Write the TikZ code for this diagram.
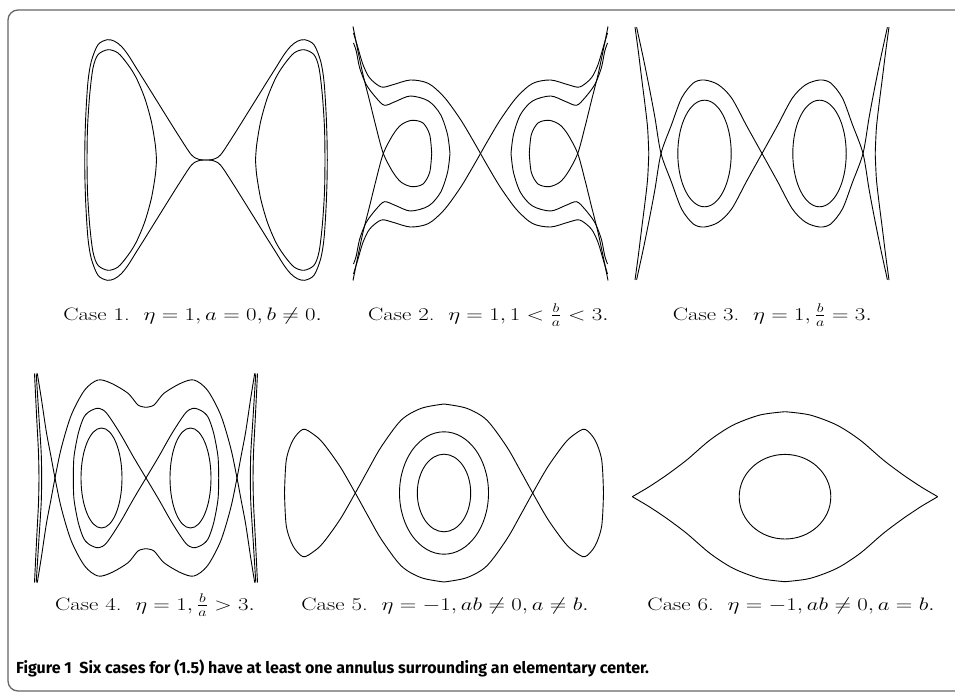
\RequirePackage{fix-cm}
\documentclass[tikz,border=0pt]{standalone}
\usepackage{fontspec}
\usepackage{graphicx}
\newfontfamily\capfont{Fira Sans}
\newcommand{\caselab}[1]{\scalebox{1.27}[1]{#1}}
\begin{document}
\begin{tikzpicture}[x=1pt,y=-1pt,
  curve/.style={line width=0.9pt,black},
  lab/.style={anchor=base,inner sep=0pt,font=\fontsize{18}{21}\selectfont},
  frame/.style={rounded corners=10pt,line width=1.3pt,black!60}]
\useasboundingbox (0,0) rectangle (955,692);
\draw[frame] (8,10) rectangle (980,691);

% ---------- Panel 1
\begin{scope}[shift={(206,160)}]
\foreach \sx in {1,-1}{\foreach \sy in {1,-1}{
\begin{scope}[xscale=\sx,yscale=\sy]
\draw[curve] plot[smooth] coordinates {(0,0) (-7,-0.6) (-14.7,-5.3) (-28,-25.3) (-44.7,-52) (-61.3,-78.7) (-69.7,-92) (-78,-105.3) (-84.7,-113.7) (-91.3,-118.7) (-98.7,-120.3) (-108,-115.3) (-114.7,-98.7) (-118,-78.7) (-120,-48.7) (-121,-22) (-121.3,0)};
\draw[curve] plot[smooth] coordinates {(-49.5,0) (-50.7,-15.3) (-54.7,-38.7) (-61.3,-62) (-69.7,-82) (-78,-95.3) (-88,-107) (-98,-110.3) (-108,-105.3) (-113,-92) (-116.3,-65.3) (-118.5,-32) (-119,0)};
\end{scope}}}
\end{scope}

% ---------- Panel 2
\begin{scope}[shift={(480.5,153.5)}]
\foreach \sx in {1,-1}{\foreach \sy in {1,-1}{
\begin{scope}[xscale=\sx,yscale=\sy]
\draw[curve] plot[smooth] coordinates {(-127,-120.5) (-122.5,-105.5) (-117.5,-88.8) (-110.8,-75.5) (-99.2,-66.5) (-87.5,-68.8) (-70,-73.5) (-52,-70) (-36,-56) (-20,-34) (-8,-14) (0,0)};
\draw[curve] plot[smooth] coordinates {(-127,-110.5) (-124.2,-102.2) (-120.8,-85.5) (-114.2,-68.8) (-104.2,-55.5) (-96,-48.2) (-85,-52) (-70,-57.5) (-52,-52.5) (-40,-39) (-33,-19) (-30.5,0)};
\draw[curve] plot[smooth] coordinates {(-127.5,-127) (-122.5,-102.2) (-117.5,-78.8) (-110.8,-52.2) (-104.2,-25.5) (-97.2,0) (-87.5,18.8) (-79.2,28.8) (-68.5,33.2) (-57.5,30.5) (-50.8,18.8) (-48.8,0)};
\end{scope}}}
\end{scope}

% ---------- Panel 3
\begin{scope}[shift={(762,153.5)}]
\foreach \sx in {1,-1}{\foreach \sy in {1,-1}{
\begin{scope}[xscale=\sx,yscale=\sy]
\draw[curve] plot[smooth] coordinates {(-127,-126.5) (-123.7,-102.2) (-120.4,-75.5) (-117,-48.8) (-114.4,-25.5) (-113.2,0)};
\draw[curve] plot[smooth] coordinates {(-125.4,-126.2) (-118.7,-95.5) (-112,-62.2) (-107,-35.5) (-101,0) (-90.4,29) (-80.4,55.5) (-68.7,70.5) (-57.7,73.5) (-43.7,68.8) (-30.4,55.5) (-15,27) (0,0)};
\end{scope}}}
\draw[curve] (-57.5,0) ellipse [x radius=26.7,y radius=53.3];
\draw[curve] (57.5,0) ellipse [x radius=26.7,y radius=53.3];
\end{scope}

% ---------- Panel 4
\begin{scope}[shift={(146,478)}]
\foreach \sx in {1,-1}{\foreach \sy in {1,-1}{
\begin{scope}[xscale=\sx,yscale=\sy]
\draw[curve] plot[smooth] coordinates {(-111.5,-104.5) (-109.3,-60) (-107.5,-25) (-107,0)};
\draw[curve] plot[smooth] coordinates {(-109.8,-104.5) (-107,-60) (-104.8,-25) (-104.3,0)};
\draw[curve] plot[smooth] coordinates {(-108.7,104.5) (-104.7,79.7) (-99.7,46.3) (-95.3,23) (-91,0) (-84.7,-30) (-74.7,-63) (-61.3,-88) (-48,-98) (-34.7,-94.7) (-18,-84.7) (-8,-73) (0,-70.7)};
\draw[curve] plot[smooth] coordinates {(0,0) (-12.7,-21.3) (-26,-44.7) (-39.3,-64.7) (-47,-69.7) (-55,-67.5) (-62,-61) (-67.7,-44.7) (-72,-21.3) (-72.7,0)};
\end{scope}}}
\draw[curve] (-44.5,0) ellipse [x radius=20.5,y radius=50];
\draw[curve] (44.5,0) ellipse [x radius=20.5,y radius=50];
\end{scope}

% ---------- Panel 5
\begin{scope}[shift={(444,493)}]
\foreach \sx in {1,-1}{\foreach \sy in {1,-1}{
\begin{scope}[xscale=\sx,yscale=\sy]
\draw[curve] plot[smooth] coordinates {(0,-89) (22.7,-84.7) (42.7,-73) (62.7,-46.3) (76,-23) (88.7,0) (104,26.5) (121,50) (131,59) (141,63.7) (151,53) (157.7,33) (159.5,0)};
\end{scope}}}
\draw[curve] (0,0) ellipse [x radius=26.7,y radius=38.8];
\draw[curve] (0,0) ellipse [x radius=44.5,y radius=61.2];
\end{scope}

% ---------- Panel 6
\begin{scope}[shift={(785,496.7)}]
\foreach \sx in {1,-1}{\foreach \sy in {1,-1}{
\begin{scope}[xscale=\sx,yscale=\sy]
\draw[curve] plot[smooth] coordinates {(-152.7,0) (-145,-4.5) (-135,-10.5) (-118.3,-21.7) (-98.3,-36.7) (-75,-56.7) (-51.7,-71.7) (-25,-81.7) (0,-85)};
\end{scope}}}
\draw[curve] (0,0) ellipse [x radius=45.8,y radius=42.3];
\end{scope}

% ---------- labels
\node[lab] (l1) at (192.7,320) {\caselab{Case 1.\ \ $\eta=1,a=0,b\neq0.$}};
\node[lab] (l2) at (488.3,320) {\caselab{Case 2.\ \ $\eta=1,1<\frac{b}{a}<3.$}};
\node[lab] (l3) at (772.3,320) {\caselab{Case 3.\ \ $\eta=1,\frac{b}{a}=3.$}};
\node[lab] (l4) at (155,610) {\caselab{Case 4.\ \ $\eta=1,\frac{b}{a}>3.$}};
\node[lab] (l5) at (445,610) {\caselab{Case 5.\ \ $\eta=-1,ab\neq0,a\neq b.$}};
\node[lab] (l6) at (791,610) {\caselab{Case 6.\ \ $\eta=-1,ab\neq0,a=b.$}};
\node[anchor=base west,inner sep=0pt,font=\capfont\bfseries\fontsize{16}{18}\selectfont] (cap) at (16,673) {Figure 1\ \ Six cases for (1.5) have at least one annulus surrounding an elementary center.};
\end{tikzpicture}
\end{document}
